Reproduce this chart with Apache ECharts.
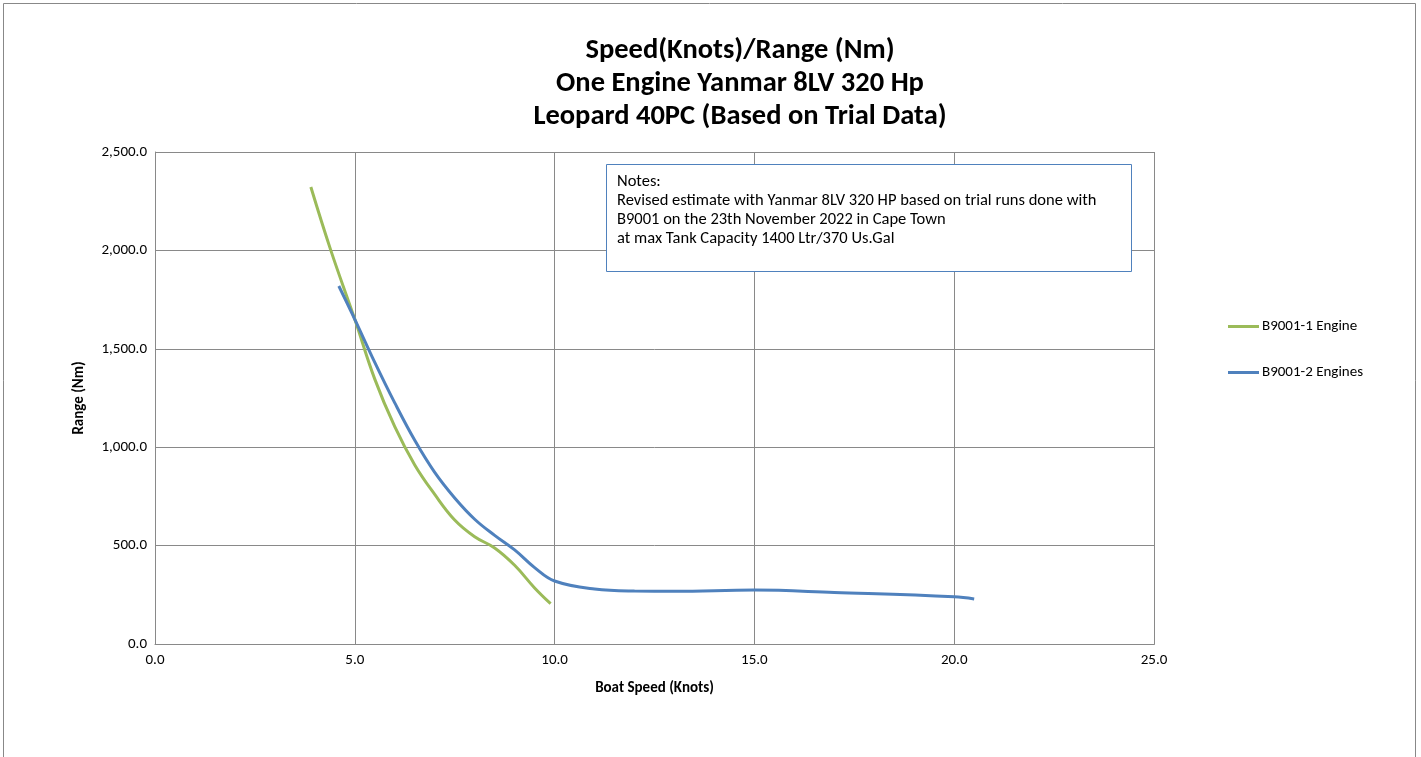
<!DOCTYPE html>
<html>
<head>
<meta charset="utf-8">
<script src="https://cdn.jsdelivr.net/npm/echarts@6/dist/echarts.min.js"></script>
<style>
html,body{margin:0;padding:0;background:#fff;}
#chart{width:1421px;height:757px;}
</style>
</head>
<body>
<div id="chart"></div>
<script>
const titleLines = ['Speed(Knots)/Range (Nm)', 'One Engine Yanmar 8LV 320 Hp', 'Leopard 40PC (Based on Trial Data)'];
const seriesNames = ['B9001-1 Engine', 'B9001-2 Engines'];
const oneEngineSpeed = [3.9, 4.4, 5.0, 5.5, 6.0, 6.5, 7.0, 7.5, 8.0, 8.5, 9.0, 9.5, 9.9];
const oneEngineRange = [2322, 2000, 1650, 1346, 1104, 910, 760, 630, 545, 488, 400, 285, 205];
const twoEngineSpeed = [4.6, 5.0, 5.5, 6.0, 6.5, 7.0, 7.5, 8.0, 8.5, 9.0, 9.5, 10.0, 11.0, 12.0, 13.0, 15.0, 17.0, 20.0, 20.5];
const twoEngineRange = [1819, 1650, 1431, 1225, 1035, 872, 742, 634, 552, 478, 388, 320, 279, 269, 268, 274, 262, 240, 229];
const notesLines = ['Notes:', 'Revised estimate with Yanmar 8LV 320 HP based on trial runs done with', 'B9001 on the 23th November 2022 in Cape Town', 'at max Tank Capacity 1400 Ltr/370 Us.Gal'];
const xAxisName = 'Boat Speed (Knots)';
const yAxisName = 'Range (Nm)';

const font = 'Carlito, "Open Sans", "Liberation Sans", sans-serif';
const chart = echarts.init(document.getElementById('chart'));
const fmt = v => v.toLocaleString('en-US', {minimumFractionDigits: 1, maximumFractionDigits: 1});
const zip = (a, b) => a.map((v, i) => [v, b[i]]);

chart.setOption({
  animation: false,
  backgroundColor: '#fff',
  title: {
    text: titleLines.join('\n'),
    left: 735, textAlign: 'center', top: 29,
    textStyle: {fontFamily: font, fontSize: 28.5, fontWeight: 'bold', color: '#000', lineHeight: 33}
  },
  legend: {
    orient: 'vertical', left: 1223, top: 314, itemGap: 31, itemWidth: 31, itemHeight: 3,
    icon: 'rect',
    textStyle: {fontFamily: font, fontSize: 15, color: '#000', padding: [0, 0, 0, -2]},
    data: seriesNames
  },
  grid: {left: 155, right: 267, top: 152, bottom: 113, containLabel: false, show: false},
  xAxis: {
    type: 'value', min: 0, max: 25, interval: 5,
    name: xAxisName, nameLocation: 'middle', nameGap: 37,
    nameTextStyle: {fontFamily: font, fontSize: 15, fontWeight: 'bold', color: '#000'},
    axisLine: {show: true, lineStyle: {color: '#898989'}},
    axisTick: {show: false},
    axisLabel: {formatter: fmt, fontFamily: font, fontSize: 15, color: '#000', margin: 9},
    splitLine: {show: true, lineStyle: {color: '#898989', width: 1}}
  },
  yAxis: {
    type: 'value', min: 0, max: 2500, interval: 500,
    name: yAxisName, nameLocation: 'middle', nameGap: 68, nameRotate: 90,
    nameTextStyle: {fontFamily: font, fontSize: 15, fontWeight: 'bold', color: '#000'},
    axisLine: {show: true, lineStyle: {color: '#898989'}},
    axisTick: {show: false},
    axisLabel: {formatter: fmt, fontFamily: font, fontSize: 15, color: '#000', margin: 8},
    splitLine: {show: true, lineStyle: {color: '#898989', width: 1}}
  },
  series: [
    {name: seriesNames[0], type: 'line', smooth: 0.4, showSymbol: false, symbol: 'none',
     data: zip(oneEngineSpeed, oneEngineRange), color: '#9BBB59',
     lineStyle: {color: '#9BBB59', width: 3}},
    {name: seriesNames[1], type: 'line', smooth: 0.4, showSymbol: false, symbol: 'none',
     data: zip(twoEngineSpeed, twoEngineRange), color: '#4F81BD',
     lineStyle: {color: '#4F81BD', width: 3}}
  ],
  graphic: [
    {type: 'rect', shape: {x: 3.5, y: 3.5, width: 1412, height: 760}, style: {fill: 'none', stroke: '#888', lineWidth: 1}, silent: true},
    {type: 'rect', shape: {x: 155.5, y: 152.5, width: 999, height: 492}, style: {fill: 'none', stroke: '#898989', lineWidth: 1}, silent: true, z: 1},
    {type: 'rect', shape: {x: 606.5, y: 164.5, width: 525, height: 107}, style: {fill: '#fff', stroke: '#4F81BD', lineWidth: 1}, z: 10},
    {type: 'text', x: 617, y: 172, z: 11,
     style: {text: notesLines.join('\n'), font: '16.5px ' + font, fill: '#000', lineHeight: 19}}
  ]
});
</script>
</body>
</html>
